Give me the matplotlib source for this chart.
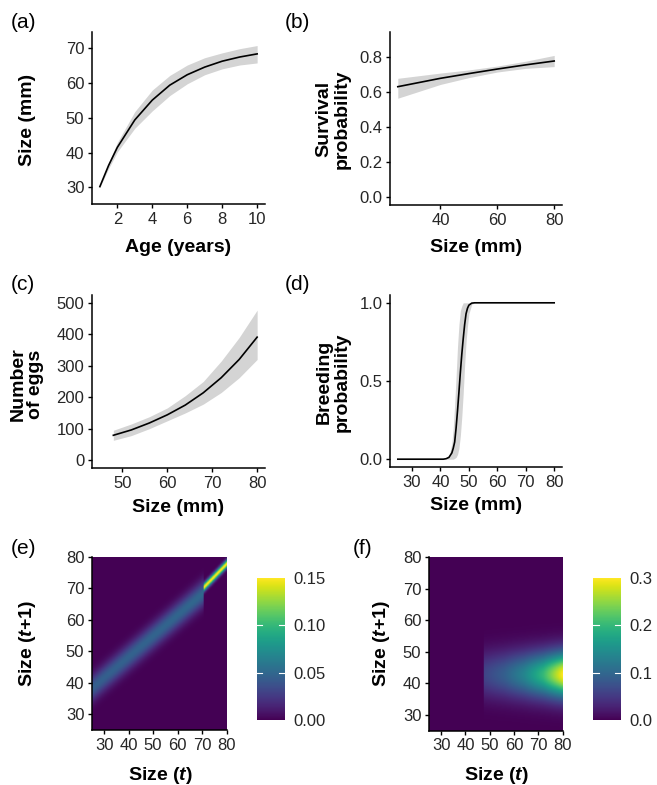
import numpy as np
import matplotlib
matplotlib.use("Agg")
import matplotlib.pyplot as plt

plt.rcParams['font.family'] = ['Liberation Sans', 'DejaVu Sans']
plt.rcParams['mathtext.fontset'] = 'custom'
plt.rcParams['mathtext.rm'] = 'Liberation Sans'
plt.rcParams['mathtext.bf'] = 'Liberation Sans:bold'
plt.rcParams['mathtext.it'] = 'Liberation Sans:italic'
plt.rcParams['mathtext.bfit'] = 'Liberation Sans:italic:bold'

# (a) size at age
age = [1, 1.5, 2, 3, 4, 5, 6, 7, 8, 9, 10]
size_age = [30.2, 36.3, 41.5, 49.4, 55.1, 59.4, 62.4, 64.6, 66.3, 67.5, 68.4]
size_age_lo = [30.0, 35.4, 40.2, 47.0, 52.0, 56.4, 59.8, 62.4, 64.1, 65.2, 65.8]
size_age_hi = [30.4, 37.0, 42.9, 51.8, 58.0, 62.2, 65.2, 67.3, 68.7, 69.9, 70.8]

# (b) survival
surv_size = [25, 40, 50, 60, 70, 80]
surv = [0.632, 0.680, 0.707, 0.733, 0.757, 0.779]
surv_lo = [0.566, 0.645, 0.684, 0.716, 0.737, 0.747]
surv_hi = [0.680, 0.710, 0.728, 0.750, 0.778, 0.811]

# (c) number of eggs
egg_size = [48, 52, 56, 60, 64, 68, 72, 76, 80]
eggs = [79, 96, 118, 144, 175, 214, 262, 320, 391]
eggs_lo = [63, 78, 100, 125, 150, 178, 215, 262, 320]
eggs_hi = [95, 115, 138, 166, 205, 250, 315, 390, 477]

# (d) breeding probability
breed_size = [25, 41, 42, 43, 44, 44.5, 45, 45.5, 46, 46.5, 47, 47.5, 48,
              48.5, 49, 49.5, 50, 51, 52, 80]
breed = [0, 0, 0.003, 0.012, 0.04, 0.07, 0.11, 0.2, 0.31, 0.43, 0.555, 0.67, 0.77,
         0.86, 0.93, 0.965, 0.985, 0.998, 1, 1]
breed_lo = [0, 0, 0, 0, 0, 0, 0.005, 0.012, 0.03, 0.07, 0.15, 0.27, 0.42,
            0.6, 0.75, 0.85, 0.93, 0.99, 1, 1]
breed_hi = [0, 0, 0, 0.02, 0.10, 0.2, 0.35, 0.53, 0.72, 0.86, 0.95, 0.98, 1,
            1, 1, 1, 1, 1, 1, 1]

# (e) growth/survival kernel
P_size_small = [25, 70.5]
P_mean_small = [38.3, 68.6]
P_peak_small = [0.045, 0.05]
P_sd_small = 2.8
P_size_big = [70.5, 80]
P_mean_big = [70.3, 77.9]
P_peak_big = 0.15
P_sd_big = 0.9

# (f) fecundity kernel
F_size = [47.5, 56, 64, 72, 80]
F_peak = [0.06, 0.09, 0.135, 0.2, 0.3]
F_mean = 42.8
F_sd = 5.0

W, H = 657, 785
fig = plt.figure(figsize=(W / 100, H / 100), dpi=100)


def box(l, t, r, b):
    return [l / W, 1 - b / H, (r - l) / W, (b - t) / H]


def ftext(x, y, s, **kw):
    fig.text(x / W, 1 - y / H, s, **kw)


tick_col = '#262626'
rib_col = '#d4d4d4'


def style(ax):
    for s in ['top', 'right']:
        ax.spines[s].set_visible(False)
    for s in ['left', 'bottom']:
        ax.spines[s].set_linewidth(1.1)
    ax.tick_params(length=3, width=1.0, pad=2.5, labelsize=12, labelcolor=tick_col)


ax1 = fig.add_axes(box(92, 32, 265, 204))
ax1.fill_between(age, size_age_lo, size_age_hi, color=rib_col, lw=0)
ax1.plot(age, size_age, color='black', lw=1.2)
ax1.set_xlim(0.55, 10.45)
ax1.set_ylim(25.2, 74.7)
ax1.set_xticks([2, 4, 6, 8, 10])
ax1.set_yticks([30, 40, 50, 60, 70])
style(ax1)

ax2 = fig.add_axes(box(390, 32, 562, 205))
ax2.fill_between(surv_size, surv_lo, surv_hi, color=rib_col, lw=0)
ax2.plot(surv_size, surv, color='black', lw=1.2)
ax2.set_xlim(22.25, 82.75)
ax2.set_ylim(-0.045, 0.945)
ax2.set_xticks([40, 60, 80])
ax2.set_yticks([0, 0.2, 0.4, 0.6, 0.8])
ax2.set_yticklabels(['0.0', '0.2', '0.4', '0.6', '0.8'])
style(ax2)

ax3 = fig.add_axes(box(92, 295, 265, 468))
ax3.fill_between(egg_size, eggs_lo, eggs_hi, color=rib_col, lw=0)
ax3.plot(egg_size, eggs, color='black', lw=1.2)
ax3.set_xlim(43.25, 81.75)
ax3.set_ylim(-25, 525)
ax3.set_xticks([50, 60, 70, 80])
ax3.set_yticks([0, 100, 200, 300, 400, 500])
style(ax3)

ax4 = fig.add_axes(box(390, 295, 562, 467))
ax4.fill_between(breed_size, breed_lo, breed_hi, color=rib_col, lw=0)
ax4.plot(breed_size, breed, color='black', lw=1.2)
ax4.set_xlim(22.25, 82.75)
ax4.set_ylim(-0.05, 1.05)
ax4.set_xticks([30, 40, 50, 60, 70, 80])
ax4.set_yticks([0, 0.5, 1.0])
ax4.set_yticklabels(['0.0', '0.5', '1.0'])
style(ax4)

# kernels on a fine mesh
mesh = np.linspace(25, 80, 220)
X, Y = np.meshgrid(mesh, mesh)

small = X < P_size_small[1]
mu = np.where(small, np.interp(X, P_size_small, P_mean_small), np.interp(X, P_size_big, P_mean_big))
pk = np.where(small, np.interp(X, P_size_small, P_peak_small), P_peak_big)
sd = np.where(small, P_sd_small, P_sd_big)
P = pk * np.exp(-0.5 * ((Y - mu) / sd) ** 2)

Fk = np.where(X >= F_size[0], np.interp(X, F_size, F_peak), 0) * np.exp(-0.5 * ((Y - F_mean) / F_sd) ** 2)


def heat(rect, cbrect, Z, vmax, ticks, labels):
    ax = fig.add_axes(box(*rect))
    im = ax.imshow(Z, origin='lower', extent=[25, 80, 25, 80], aspect='auto',
                   cmap='viridis', vmin=0, vmax=vmax, interpolation='bilinear')
    ax.set_xticks([30, 40, 50, 60, 70, 80])
    ax.set_yticks([30, 40, 50, 60, 70, 80])
    style(ax)
    cax = fig.add_axes(box(*cbrect))
    cb = fig.colorbar(im, cax=cax)
    cb.outline.set_visible(False)
    cb.set_ticks(ticks)
    cb.set_ticklabels(labels)
    cax.tick_params(length=0, pad=6, labelsize=12, labelcolor=tick_col)
    for t in ticks[1:-1]:
        cax.axhline(t, xmin=0, xmax=0.2, color='white', lw=0.8)
        cax.axhline(t, xmin=0.8, xmax=1, color='white', lw=0.8)
    return ax


ax5 = heat((92, 557, 226.5, 730), (256.5, 578, 285, 720), P, 0.15,
           [0, 0.05, 0.10, 0.15], ['0.00', '0.05', '0.10', '0.15'])
ax6 = heat((429, 557, 562.5, 730.5), (593, 578, 621, 720), Fk, 0.3,
           [0, 0.1, 0.2, 0.3], ['0.0', '0.1', '0.2', '0.3'])

# axis titles
tk = dict(fontsize=14, fontweight='bold', ha='center', va='center')
ftext(27, 120, 'Size (mm)', rotation=90, **tk)
ftext(178, 247, 'Age (years)', **tk)
ftext(333, 119, 'Survival\nprobability', rotation=90, linespacing=1.05, **tk)
ftext(476, 247, 'Size (mm)', **tk)
ftext(27, 384, 'Number\nof eggs', rotation=90, linespacing=1.05, **tk)
ftext(178, 508, 'Size (mm)', **tk)
ftext(333, 382, 'Breeding\nprobability', rotation=90, linespacing=1.05, **tk)
ftext(476, 506, 'Size (mm)', **tk)
ftext(27, 643, r'Size ($\mathbfit{t}$+1)', rotation=90, **tk)
ftext(160, 775, r'Size ($\mathbfit{t}$)', **tk)
ftext(382, 643, r'Size ($\mathbfit{t}$+1)', rotation=90, **tk)
ftext(496, 775, r'Size ($\mathbfit{t}$)', **tk)

# panel letters
pl = dict(fontsize=15, ha='left', va='center')
ftext(11, 23, '(a)', **pl)
ftext(285, 23, '(b)', **pl)
ftext(11, 285, '(c)', **pl)
ftext(285, 285, '(d)', **pl)
ftext(11, 549, '(e)', **pl)
ftext(353, 549, '(f)', **pl)

fig.savefig('out.png', dpi=100)
